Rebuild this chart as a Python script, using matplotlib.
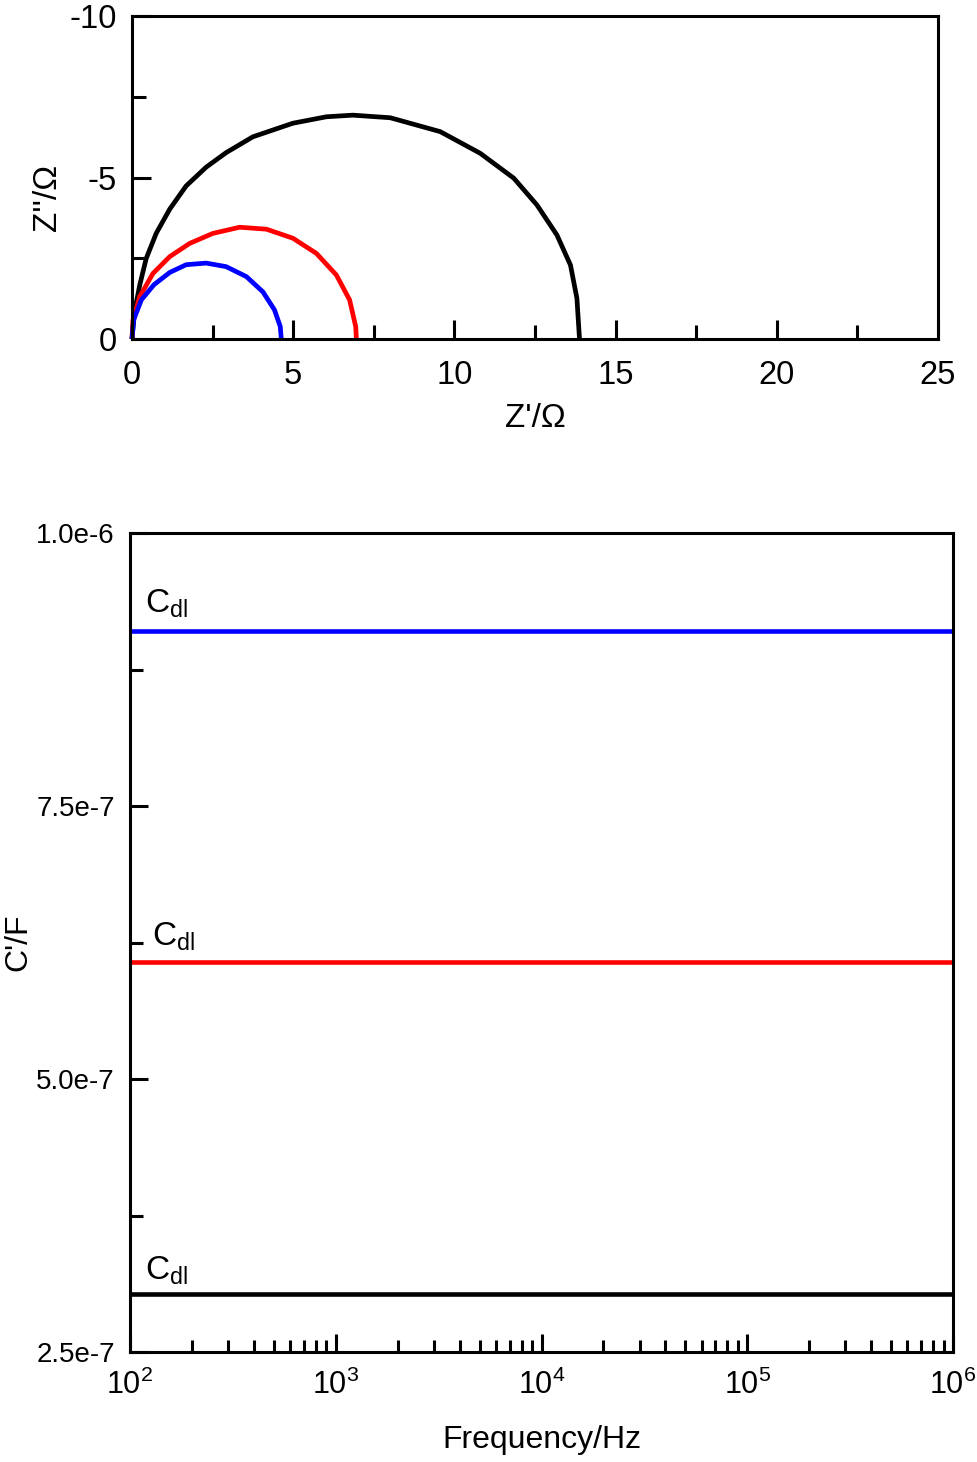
import matplotlib
matplotlib.use("Agg")
import matplotlib.pyplot as plt
from matplotlib.ticker import MultipleLocator, FixedLocator, LogLocator, NullFormatter

plt.rcParams['font.family'] = ['Liberation Sans', 'DejaVu Sans']
plt.rcParams['mathtext.fontset'] = 'custom'
plt.rcParams['mathtext.rm'] = 'Liberation Sans'
plt.rcParams['mathtext.it'] = 'Liberation Sans:italic'
plt.rcParams['axes.unicode_minus'] = False

# Nyquist data (Z', Z''), ohm
z_re_black = [0.0, 0.01, 0.08, 0.24, 0.44, 0.75, 1.17, 1.68, 2.30, 2.92, 3.75, 4.99, 6.03, 6.85,
              8.01, 9.56, 10.80, 11.84, 12.56, 13.18, 13.60, 13.80, 13.88]
z_im_black = [0.0, -0.12, -0.85, -1.67, -2.49, -3.27, -4.02, -4.74, -5.32, -5.77, -6.26, -6.68, -6.88, -6.93,
              -6.85, -6.42, -5.75, -4.98, -4.15, -3.22, -2.29, -1.26, 0.0]

z_re_red = [0.0, 0.03, 0.24, 0.65, 1.17, 1.79, 2.51, 3.34, 4.17, 4.99, 5.72, 6.34, 6.75, 6.94, 6.96]
z_im_red = [0.0, -0.59, -1.31, -2.03, -2.55, -2.96, -3.27, -3.46, -3.40, -3.12, -2.65, -1.98, -1.21, -0.38, 0.0]

z_re_blue = [0.0, 0.05, 0.29, 0.68, 1.17, 1.68, 2.30, 2.92, 3.55, 4.06, 4.42, 4.60, 4.63]
z_im_blue = [0.0, -0.59, -1.21, -1.68, -2.06, -2.30, -2.35, -2.24, -1.93, -1.46, -0.90, -0.38, 0.0]

# capacitance vs frequency
freq = [1e2, 1e3, 1e4, 1e5, 1e6]
c_blue = [9.10e-7] * 5
c_red = [6.07e-7] * 5
c_black = [3.03e-7] * 5

c_ticks = [2.5e-7, 5.0e-7, 7.5e-7, 1.0e-6]
c_tick_labels = ["2.5e-7", "5.0e-7", "7.5e-7", "1.0e-6"]
f_ticks = [1e2, 1e3, 1e4, 1e5, 1e6]
f_tick_labels = [r"$\mathregular{10^{2}}$", r"$\mathregular{10^{3}}$", r"$\mathregular{10^{4}}$",
                 r"$\mathregular{10^{5}}$", r"$\mathregular{10^{6}}$"]

fig = plt.figure(figsize=(9.77, 14.62), dpi=100)

# ---- top: Nyquist ----
ax1 = fig.add_axes([132/977, 1-339/1462, 806/977, 323/1462])
for zr, zi, col in [(z_re_black, z_im_black, 'black'),
                    (z_re_red, z_im_red, '#ff0000'),
                    (z_re_blue, z_im_blue, '#0000ff')]:
    ax1.plot(zr, zi, color=col, lw=3.4, clip_on=False, solid_capstyle='butt')
ax1.set_xlim(0, 25)
ax1.set_ylim(0, -10)
ax1.xaxis.set_major_locator(MultipleLocator(5))
ax1.xaxis.set_minor_locator(MultipleLocator(2.5))
ax1.yaxis.set_major_locator(MultipleLocator(5))
ax1.yaxis.set_minor_locator(MultipleLocator(2.5))
ax1.tick_params(which='both', direction='in', width=2.2, labelsize=23.5)
ax1.tick_params(which='major', length=14)
ax1.tick_params(which='minor', length=10)
ax1.tick_params(axis='x', pad=15)
ax1.tick_params(axis='y', pad=11)
ax1.set_xlabel("Z'/Ω", fontsize=24, labelpad=9)
ax1.set_ylabel("Z''/Ω", fontsize=24)
ax1.yaxis.set_label_coords(-0.086, 0.437)
for s in ax1.spines.values():
    s.set_linewidth(2.2)

# ---- bottom: C' vs frequency ----
ax2 = fig.add_axes([130/977, 1-1352/1462, 823/977, 819/1462])
ax2.plot(freq, c_blue, color='#0000ff', lw=3.3, clip_on=False, solid_capstyle='butt')
ax2.plot(freq, c_red, color='#ff0000', lw=3.3, clip_on=False, solid_capstyle='butt')
ax2.plot(freq, c_black, color='black', lw=3.3, clip_on=False, solid_capstyle='butt')
ax2.set_xscale('log')
ax2.set_xlim(1e2, 1e6)
ax2.set_ylim(2.5e-7, 1.0e-6)
ax2.xaxis.set_major_locator(FixedLocator(f_ticks))
ax2.set_xticklabels(f_tick_labels)
ax2.xaxis.set_minor_locator(LogLocator(base=10, subs=range(2, 10)))
ax2.xaxis.set_minor_formatter(NullFormatter())
ax2.yaxis.set_major_locator(FixedLocator(c_ticks))
ax2.set_yticklabels(c_tick_labels)
ax2.yaxis.set_minor_locator(MultipleLocator(1.25e-7))
ax2.tick_params(which='both', direction='in', width=2.2)
ax2.tick_params(which='major', length=13)
ax2.tick_params(which='minor', length=9)
ax2.tick_params(axis='x', labelsize=22, pad=13)
ax2.tick_params(axis='y', labelsize=20, pad=11)
ax2.set_xlabel("Frequency/Hz", fontsize=23, labelpad=17)
ax2.set_ylabel("C'/F", fontsize=23)
ax2.yaxis.set_label_coords(-0.118, 0.5)
for s in ax2.spines.values():
    s.set_linewidth(2.2)

for cval, dx, dy in [(c_blue[0], 10.5, 13.5), (c_red[0], 15.5, 12), (c_black[0], 10.5, 10.5)]:
    ax2.annotate(r"C$_{\mathregular{dl}}$", xy=(0, cval), xycoords=('axes fraction', 'data'),
                 xytext=(dx, dy), textcoords='offset points', fontsize=24, va='baseline')

fig.savefig("out.png", dpi=100)
